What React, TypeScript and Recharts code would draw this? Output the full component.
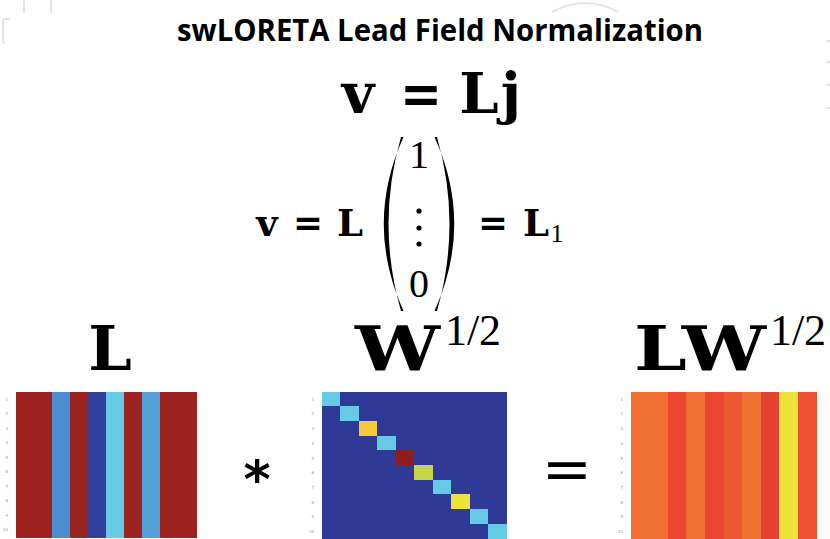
import { BarChart, Bar, XAxis, YAxis, Cell } from 'recharts';

// row / column labels of the 10x10 matrices
const ROWS = ['1', '2', '3', '4', '5', '6', '7', '8', '9', '10'];
const COLS = ['1', '2', '3', '4', '5', '6', '7', '8', '9', '10'];

// lead field L: every row is the same, one value per column (0..1 colour scale)
const L_COLUMNS = [0.98, 0.98, 0.3, 0.98, 0.02, 0.4, 0.98, 0.33, 0.98, 0.98];
// W^(1/2): diagonal weights, zero elsewhere
const W_DIAGONAL = [0.4, 0.4, 0.7, 0.4, 1.0, 0.6, 0.4, 0.65, 0.4, 0.4];
const W_OFF = 0;
// normalized lead field L W^(1/2)
const LW_COLUMNS = [0.8, 0.8, 0.87, 0.8, 0.87, 0.84, 0.8, 0.88, 0.65, 0.85];

// washed-out jet colour map
const STOPS: [number, number[]][] = [
  [0, [46, 58, 150]],
  [0.3, [75, 142, 212]],
  [0.4, [102, 203, 230]],
  [0.6, [198, 214, 74]],
  [0.65, [236, 228, 58]],
  [0.7, [246, 200, 58]],
  [0.8, [240, 112, 50]],
  [0.87, [234, 70, 48]],
  [1, [142, 29, 29]],
];

function jet(v: number) {
  for (let i = 1; i < STOPS.length; i++) {
    const [v1, c1] = STOPS[i];
    const [v0, c0] = STOPS[i - 1];
    if (v <= v1) {
      const t = (v - v0) / (v1 - v0);
      const c = c0.map((x, k) => Math.round(x + (c1[k] - x) * t));
      return `rgb(${c[0]},${c[1]},${c[2]})`;
    }
  }
  const c = STOPS[STOPS.length - 1][1];
  return `rgb(${c[0]},${c[1]},${c[2]})`;
}

const lMatrix = ROWS.map(() => L_COLUMNS);
const wMatrix = ROWS.map((_, r) => COLS.map((_, c) => (r === c ? W_DIAGONAL[r] : W_OFF)));
const lwMatrix = ROWS.map(() => LW_COLUMNS);

const AXIS_W = 14;

function Matrix({ values, left, top, width, height }: { values: number[][]; left: number; top: number; width: number; height: number }) {
  const data = COLS.map((col, ci) => {
    const row: Record<string, string | number> = { col };
    ROWS.forEach((_, ri) => {
      row['r' + ri] = 1;
      row['v' + ri] = values[ri][ci];
    });
    return row;
  });
  return (
    <div style={{ position: 'absolute', left: left - AXIS_W, top }}>
      <BarChart width={width + AXIS_W} height={height + 4} data={data} margin={{ top: 0, right: 0, bottom: 4, left: 0 }} barCategoryGap={0} barGap={0}>
        <XAxis dataKey="col" hide />
        <YAxis
          type="number"
          domain={[0, 10]}
          reversed
          ticks={[0.5, 1.5, 2.5, 3.5, 4.5, 5.5, 6.5, 7.5, 8.5, 9.5]}
          tickFormatter={(v: number) => String(v + 0.5)}
          width={AXIS_W}
          axisLine={false}
          tickLine={false}
          tick={{ fontSize: 4, fill: '#999', fontFamily: 'DejaVu Sans' }}
        />
        {ROWS.map((r, ri) => (
          <Bar key={r} dataKey={'r' + ri} stackId="m" isAnimationActive={false}>
            {data.map((d, ci) => (
              <Cell key={ci} fill={jet(values[ri][ci])} stroke={jet(values[ri][ci])} strokeWidth={1} shapeRendering="crispEdges" />
            ))}
          </Bar>
        ))}
      </BarChart>
    </div>
  );
}

const serif = 'DejaVu Serif';
const roman = 'Liberation Serif';

export default function App() {
  return (
    <div style={{ position: 'fixed', left: 0, top: 0, width: 830, height: 539, background: '#fff', overflow: 'hidden' }}>
      <svg width={830} height={539} style={{ position: 'absolute', left: 0, top: 0 }}>
        {/* faint slide decorations */}
        <g stroke="#e4e4e4" strokeWidth={2} fill="none">
          <line x1={24} y1={0} x2={24} y2={13} />
          <line x1={51} y1={0} x2={51} y2={13} />
          <path d="M10 19 H5 Q3 19 3 22 V40 Q3 43 5 43" />
          <path d="M552 12 Q585 -6 618 12" />
          <line x1={826} y1={41} x2={830} y2={41} />
          <line x1={826} y1={62} x2={830} y2={62} />
          <line x1={826} y1={85} x2={830} y2={85} />
          <line x1={826} y1={108} x2={830} y2={108} />
        </g>

        <text x={440} y={41} textAnchor="middle" fontFamily="Open Sans" fontWeight={700} fontSize={31} textLength={526} lengthAdjust="spacingAndGlyphs" fill="#000">
          swLORETA Lead Field Normalization
        </text>

        {/* v = Lj */}
        <g fontFamily={serif} fontWeight={700} fontSize={56} fill="#000">
          <text x={358} y={113} textAnchor="middle">v</text>
          <text x={400} y={113} textLength={42} lengthAdjust="spacingAndGlyphs">=</text>
          <text x={479} y={113} textAnchor="middle">L</text>
          <text x={511} y={113} textAnchor="middle">j</text>
        </g>

        {/* v = L (1 ... 0) = L1 */}
        <g fontFamily={serif} fontWeight={700} fontSize={37} fill="#000">
          <text x={267} y={236} textAnchor="middle">v</text>
          <text x={293} y={236} textLength={30} lengthAdjust="spacingAndGlyphs">=</text>
          <text x={350} y={236} textAnchor="middle">L</text>
          <text x={478} y={236} textLength={30} lengthAdjust="spacingAndGlyphs">=</text>
          <text x={536} y={236} textAnchor="middle">L</text>
        </g>
        <text x={557} y={242} textAnchor="middle" fontFamily={roman} fontSize={26} fill="#000">1</text>
        <path d="M403.5 137 Q364 224 403.5 311 L401 311 Q376 224 401 137 Z" fill="#000" />
        <path d="M434.5 137 Q474 224 434.5 311 L437 311 Q462 224 437 137 Z" fill="#000" />
        <text x={419} y={168} textAnchor="middle" fontFamily={roman} fontSize={40} fill="#000">1</text>
        <circle cx={419} cy={211} r={2.6} fill="#000" />
        <circle cx={419} cy={228} r={2.6} fill="#000" />
        <circle cx={419} cy={244} r={2.6} fill="#000" />
        <text x={419} y={297} textAnchor="middle" fontFamily={roman} fontSize={40} fill="#000">0</text>

        {/* matrix titles */}
        <g fontFamily={serif} fontWeight={700} fontSize={62} fill="#000">
          <text x={110} y={370} textAnchor="middle">L</text>
          <text x={355} y={370} textLength={85} lengthAdjust="spacingAndGlyphs">W</text>
          <text x={634} y={370} textLength={132} lengthAdjust="spacingAndGlyphs">LW</text>
        </g>
        <g fontFamily={roman} fontSize={44} fill="#000">
          <text x={473} y={345} textAnchor="middle">1/2</text>
          <text x={798} y={345} textAnchor="middle">1/2</text>
        </g>

        <text x={257} y={497} textAnchor="middle" fontFamily="DejaVu Sans" fontWeight={700} fontSize={52} fill="#000">*</text>
        <text x={567} y={489} textAnchor="middle" fontFamily={serif} fontSize={60} fill="#000">=</text>
      </svg>

      <Matrix values={lMatrix} left={16} top={392} width={181} height={145} />
      <Matrix values={wMatrix} left={322} top={392} width={185} height={147} />
      <Matrix values={lwMatrix} left={631} top={392} width={186} height={147} />
    </div>
  );
}
